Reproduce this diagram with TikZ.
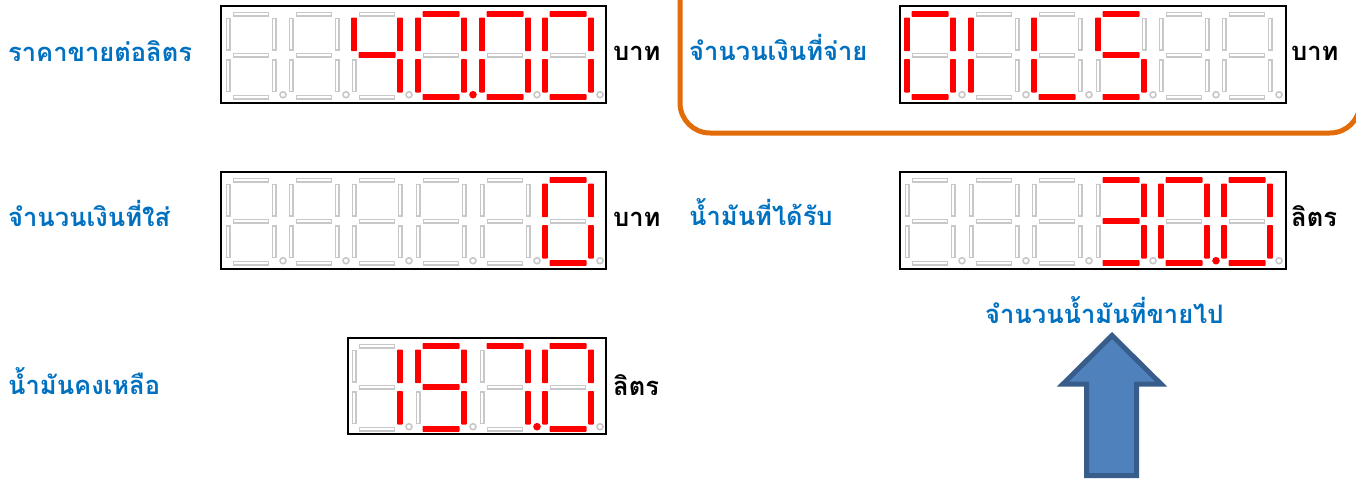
\documentclass[tikz,border=0pt]{standalone}
\usepackage{fontspec}
\newfontfamily\thaifont[Script=Thai]{Loma}
\definecolor{lblue}{HTML}{0070C0}
\definecolor{segoff}{HTML}{C8C8C8}
\definecolor{segon}{HTML}{FF0000}
\definecolor{frameor}{HTML}{E36C0A}
\definecolor{arrowfill}{HTML}{4F81BD}
\definecolor{arrowline}{HTML}{385D8A}
\tikzset{
  lbl/.style={font=\thaifont\bfseries\fontsize{25.5}{28}\selectfont,text=lblue,anchor=base west,inner sep=0pt},
  unit/.style={font=\thaifont\bfseries\fontsize{25.5}{28}\selectfont,text=black,anchor=base west,inner sep=0pt},
  disp/.style={draw=black,line width=2pt,fill=white},
  segoffst/.style={draw=segoff,fill=white,line width=1.5pt},
  segonst/.style={fill=segon,rounded corners=0.6pt},
  dotoff/.style={draw=segoff,fill=white,line width=1.6pt},
  doton/.style={fill=segon},
}
\makeatletter
% \sgm{letter}{lit list}{x1}{y1}{x2}{y2}: outline of the lit segment; an unlit one is inset
\newcommand{\sgm}[6]{%
  \in@{#1}{#2}%
  \ifin@ \path[segonst] (#3,#4) rectangle (#5,#6);%
  \else \path[segoffst] (#3+1.05,#4+1.05) rectangle (#5-1.05,#6-1.05);\fi}
% \digit{centre x}{box top}{lit list}
\newcommand{\digit}[3]{%
  \pgfmathsetmacro{\dx}{#1}\pgfmathsetmacro{\dy}{#2}%
  \sgm{a}{#3}{\dx-18.5}{\dy+5.2}{\dx+18.5}{\dy+10.8}
  \sgm{g}{#3}{\dx-18.5}{\dy+46.2}{\dx+18.5}{\dy+51.8}
  \sgm{d}{#3}{\dx-18.5}{\dy+88.2}{\dx+18.5}{\dy+93.8}
  \sgm{f}{#3}{\dx-25.8}{\dy+11.5}{\dx-20.2}{\dy+45.2}
  \sgm{b}{#3}{\dx+20.2}{\dy+11.5}{\dx+25.8}{\dy+45.2}
  \sgm{e}{#3}{\dx-25.8}{\dy+53}{\dx-20.2}{\dy+86.5}
  \sgm{c}{#3}{\dx+20.2}{\dy+53}{\dx+25.8}{\dy+86.5}
  \in@{p}{#3}%
  \ifin@ \path[doton] (\dx+32,\dy+88.7) circle (3.8);%
  \else \path[dotoff] (\dx+32,\dy+88.7) circle (3);\fi
}
\makeatother
\begin{document}
\begin{tikzpicture}[x=1pt,y=-1pt]
\useasboundingbox (0,0) rectangle (1356,483);
% orange frame
\draw[frameor,line width=5pt,rounded corners=30pt] (680,-30) -- (680,133) -- (1360,133) -- (1360,-30);
% displays
\path[disp] (221,6) rectangle (606,103);
\digit{251}{6}{}
\digit{314}{6}{}
\digit{377}{6}{bcfg}
\digit{441}{6}{abcdefp}
\digit{505}{6}{abcdef}
\digit{568}{6}{abcdef}
\path[disp] (900,6) rectangle (1286,103);
\digit{930}{6}{abcdef}
\digit{994}{6}{ef}
\digit{1057}{6}{def}
\digit{1121}{6}{acdfg}
\digit{1184}{6}{}
\digit{1247}{6}{}
\path[disp] (221,172) rectangle (606,269);
\digit{251}{172}{}
\digit{314}{172}{}
\digit{377}{172}{}
\digit{441}{172}{}
\digit{505}{172}{}
\digit{568}{172}{abcdef}
\path[disp] (900,172) rectangle (1286,269);
\digit{930}{172}{}
\digit{994}{172}{}
\digit{1057}{172}{}
\digit{1121}{172}{abcdg}
\digit{1184}{172}{abcdefp}
\digit{1247}{172}{abcdef}
\path[disp] (348,338) rectangle (606,434);
\digit{377}{338}{bc}
\digit{441}{338}{abcdfg}
\digit{505}{338}{abcp}
\digit{568}{338}{abcdef}
% labels
\node[lbl] (l1) at (8,61) {ราคาขายต่อลิตร};
\node[lbl] (l2) at (8,226) {จำนวนเงินที่ใส่};
\node[lbl] (l3) at (8,394) {น้ำมันคงเหลือ};
\node[lbl] (l4) at (689,60) {จำนวนเงินที่จ่าย};
\node[lbl] (l5) at (689,225) {น้ำมันที่ได้รับ};
\node[lbl] (l6) at (985,323) {จำนวนน้ำมันที่ขายไป};
\node[unit] (u1) at (613,60) {บาท};
\node[unit] (u2) at (613,226) {บาท};
\node[unit] (u3) at (613,395) {ลิตร};
\node[unit] (u4) at (1291,60) {บาท};
\node[unit] (u5) at (1291,226) {ลิตร};
% arrow
\path[fill=arrowfill,draw=arrowline,line width=5pt,miter limit=10]
  (1112,335.5) -- (1161,384) -- (1136.5,384) -- (1136.5,475.5) -- (1086.5,475.5) -- (1086.5,384) -- (1063,384) -- cycle;
\end{tikzpicture}
\end{document}
